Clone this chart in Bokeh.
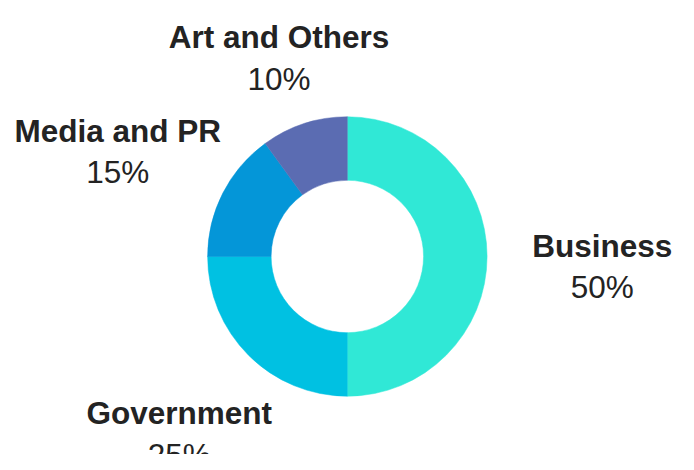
from math import radians
from bokeh.plotting import figure
from bokeh.models import Range1d, ColumnDataSource
from bokeh.core.properties import value
from bokeh.embed import file_html
from bokeh.resources import INLINE

categories = ["Business", "Government", "Media and PR", "Art and Others"]
shares = [50, 25, 15, 10]
colors = ["#30E8D6", "#00C1E2", "#0496D8", "#5B6CB2"]

# label anchor points (reference pixel coords: x centre, baseline of name line)
label_px = [616, 183, 120, 285]
label_py = [254, 427, 135, 38]

W, H = 694, 470
PW, PH = W - 16, H - 16
k = PW / W
p = figure(width=PW, height=PH, output_backend="svg", toolbar_location=None,
           x_range=Range1d(0, W), y_range=Range1d(0, H), min_border=0,
           outline_line_color=None)
p.axis.visible = False
p.grid.visible = False

cx, cy = 355, H - 265
start, end = [], []
cum = 0
for s in shares:
    start.append(radians(90 - cum * 3.6))
    cum += s
    end.append(radians(90 - cum * 3.6))

src = ColumnDataSource(dict(start=start, end=end, color=colors))
p.annular_wedge(x=cx, y=cy, inner_radius=78 * k, outer_radius=143 * k,
                inner_radius_units="screen", outer_radius_units="screen",
                start_angle="start", end_angle="end", direction="clock",
                fill_color="color", line_color="color", line_width=0.5, source=src)

lab = ColumnDataSource(dict(
    x=label_px,
    y=[H - v for v in label_py],
    y2=[H - v - 43 for v in label_py],
    name=categories,
    pct=[f"{s}%" for s in shares],
))
fs = "31.5px"
p.text(x="x", y="y", text="name", source=lab, text_align="center",
       text_baseline="alphabetic", text_font=value("Liberation Sans"),
       text_font_style="bold", text_font_size=fs, text_color="#232323")
p.text(x="x", y="y2", text="pct", source=lab, text_align="center",
       text_baseline="alphabetic", text_font=value("Liberation Sans"),
       text_font_size=fs, text_color="#232323")

open("out.html", "w").write(file_html(p, INLINE))
